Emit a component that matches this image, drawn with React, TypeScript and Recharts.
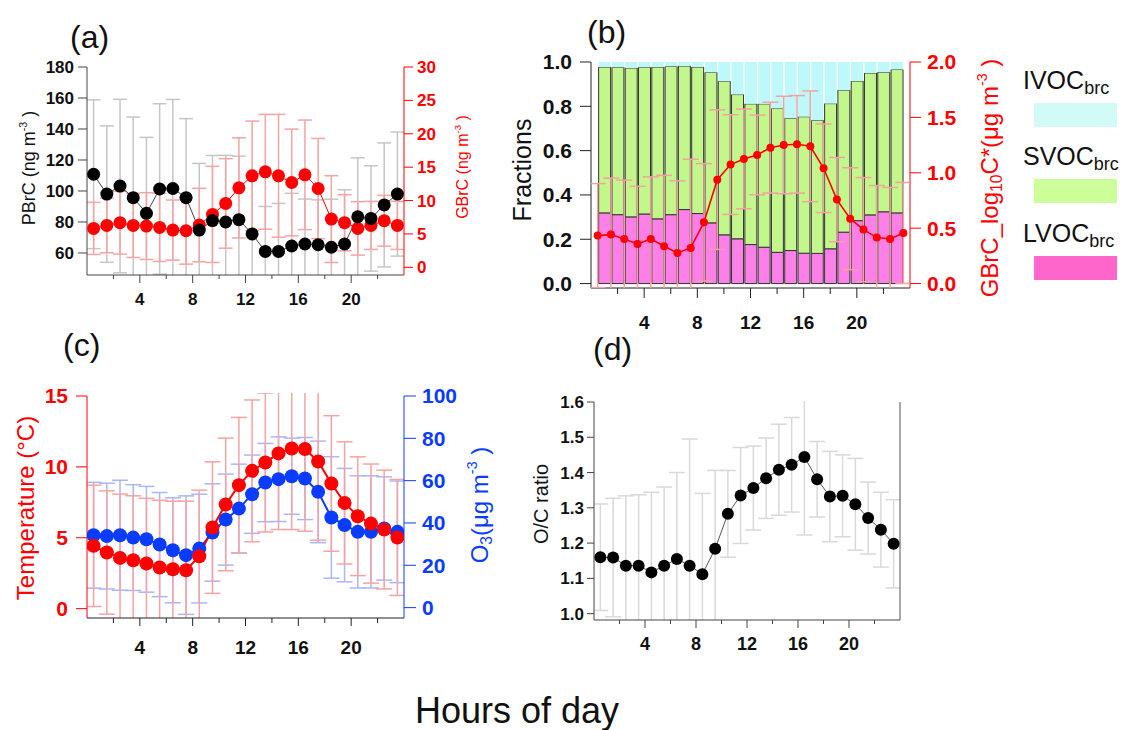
import React from 'react';
import { Bar, ComposedChart, ErrorBar, Line, XAxis, YAxis } from 'recharts';

const FONT = '"Liberation Sans", Arial, sans-serif';

// hour of day (bin centres) and bar centres for panel (b)
const hours = [0.5, 1.5, 2.5, 3.5, 4.5, 5.5, 6.5, 7.5, 8.5, 9.5, 10.5, 11.5, 12.5, 13.5, 14.5, 15.5, 16.5, 17.5, 18.5, 19.5, 20.5, 21.5, 22.5, 23.5];
const barHours = [1, 2, 3, 4, 5, 6, 7, 8, 9, 10, 11, 12, 13, 14, 15, 16, 17, 18, 19, 20, 21, 22, 23];
const xTicks = [2, 4, 6, 8, 10, 12, 14, 16, 18, 20, 22];

// (a) PBrC (ng m-3) and GBrC (ng m-3)
const pbrc = [110.8, 98, 103.2, 95.7, 85.6, 101.3, 101.6, 95.7, 74.8, 80.9, 80, 81.5, 72.3, 61, 61, 64.5, 65.8, 65.3, 63.7, 65.8, 83.4, 82.3, 91, 98];
const pbrcSd = [48, 44, 56, 52, 49, 55, 57.5, 51, 43, 42, 43, 41, 38, 29, 31, 34, 29, 29, 31, 35, 38, 34, 40, 40];
const gbrc = [5.83, 6.28, 6.68, 6.28, 6.18, 5.98, 5.58, 5.48, 6.33, 7.92, 9.57, 11.9, 13.7, 14.3, 13.7, 12.7, 13.85, 11.8, 7.22, 6.68, 5.83, 6.28, 6.98, 6.28];
const gbrcSd = [3.9, 4.1, 4.7, 4.8, 5.0, 5.1, 4.5, 5.0, 5.5, 7.2, 6.7, 7.5, 8.2, 8.6, 9.2, 8.0, 8.2, 7.5, 6.5, 4.2, 4.0, 3.6, 3.8, 3.6];

// (b) volatility fractions and GBrC log10C*
const lvoc = [0.319, 0.311, 0.301, 0.314, 0.292, 0.311, 0.334, 0.316, 0.274, 0.22, 0.202, 0.176, 0.164, 0.141, 0.149, 0.137, 0.136, 0.157, 0.232, 0.284, 0.31, 0.324, 0.319];
const svoc = [0.658, 0.665, 0.672, 0.662, 0.685, 0.669, 0.648, 0.661, 0.679, 0.693, 0.651, 0.635, 0.647, 0.649, 0.597, 0.616, 0.601, 0.655, 0.641, 0.63, 0.64, 0.63, 0.647];
const ivoc = [0.023, 0.024, 0.027, 0.024, 0.023, 0.02, 0.018, 0.023, 0.047, 0.087, 0.147, 0.189, 0.189, 0.21, 0.254, 0.247, 0.263, 0.188, 0.127, 0.086, 0.05, 0.046, 0.034];
const logC = [0.433, 0.442, 0.403, 0.358, 0.403, 0.337, 0.277, 0.322, 0.553, 0.938, 1.074, 1.125, 1.161, 1.227, 1.251, 1.257, 1.239, 1.041, 0.758, 0.586, 0.487, 0.415, 0.403, 0.457];
const logCSd = [0.47, 0.51, 0.53, 0.52, 0.56, 0.64, 0.65, 0.8, 0.53, 0.63, 0.45, 0.45, 0.36, 0.41, 0.44, 0.44, 0.5, 0.4, 0.38, 0.46, 0.47, 0.47, 0.465, 0.456];

// (c) temperature (°C) and O3 (µg m-3)
const temp = [4.43, 3.96, 3.58, 3.41, 3.18, 2.9, 2.78, 2.71, 3.7, 5.72, 7.35, 8.71, 9.72, 10.31, 10.95, 11.3, 11.26, 10.38, 8.83, 7.46, 6.52, 6.0, 5.58, 5.02];
const tempSd = [4.28, 4.35, 4.5, 4.55, 4.6, 4.75, 4.8, 4.87, 4.66, 4.64, 4.68, 4.78, 5.0, 4.9, 5.37, 5.72, 5.8, 5.55, 4.78, 4.31, 4.19, 4.2, 4.19, 4.09];
const o3 = [34.2, 33.8, 34.2, 33.1, 32.3, 29.8, 27.1, 24.8, 27.9, 35.5, 41.6, 46.8, 53.6, 59.1, 60.7, 62.1, 61.0, 54.7, 42.6, 39.0, 35.8, 35.8, 37.4, 35.8];
const o3Sd = [25, 25, 26, 25, 25, 24.6, 24.8, 28, 25.7, 23, 21.5, 21, 18.5, 18.5, 20, 18, 19.4, 24, 28.7, 26.8, 26.5, 26.5, 24.4, 24];

// (d) O/C ratio
const oc = [1.16, 1.159, 1.136, 1.136, 1.117, 1.136, 1.155, 1.136, 1.112, 1.184, 1.283, 1.335, 1.356, 1.384, 1.408, 1.422, 1.444, 1.381, 1.332, 1.334, 1.31, 1.271, 1.238, 1.198];
const ocSd = [0.151, 0.168, 0.198, 0.201, 0.227, 0.223, 0.245, 0.359, 0.229, 0.222, 0.123, 0.136, 0.119, 0.114, 0.129, 0.134, 0.221, 0.107, 0.128, 0.116, 0.13, 0.102, 0.106, 0.125];

const rowsA = hours.map((h, i) => ({ hour: h, pbrc: pbrc[i], pbrcSd: pbrcSd[i], gbrc: gbrc[i], gbrcSd: gbrcSd[i] }));
const rowsBars = barHours.map((h, i) => ({ hour: h, lvoc: lvoc[i], svoc: svoc[i], ivoc: ivoc[i] }));
const rowsBLine = hours.map((h, i) => ({ hour: h, logC: logC[i], logCSd: logCSd[i] }));
const rowsC = hours.map((h, i) => ({ hour: h, temp: temp[i], tempSd: tempSd[i], o3: o3[i], o3Sd: o3Sd[i] }));
const rowsD = hours.map((h, i) => ({ hour: h, oc: oc[i], ocSd: ocSd[i] }));

const RED = '#ff0000';
const BLUE = '#0a3cff';

// plot rectangles (page pixels)
const A = { x: 87, y: 67, w: 317, h: 208 };
const B = { x: 591, y: 62, w: 319, h: 226 };
const C = { x: 87, y: 396, w: 317, h: 222 };
const D = { x: 594, y: 402, w: 306, h: 218 };

const AX_W = 60;
const TOP = 20;
const X_H = 50;

type Rect = { x: number; y: number; w: number; h: number };

const place = (r: Rect): React.CSSProperties => ({ position: 'absolute', left: r.x - AX_W, top: r.y - TOP });
const size = (r: Rect) => ({ width: r.w + 2 * AX_W, height: r.h + TOP + X_H, margin: { top: TOP, right: 0, bottom: 0, left: 0 } });

// error bars live in their own chart, cut to the plot area like the original
const Clip = ({ r, pad = 0, children }: any) => (
  <div style={{ position: 'absolute', left: r.x, top: r.y - pad, width: r.w, height: r.h + pad, overflow: 'hidden' }}>
    <div style={{ position: 'absolute', left: -AX_W, top: -(TOP - pad) }}>{children}</div>
  </div>
);

const hourTick = (color: string, fs: number, dy: number, major: number, minor: number) => (p: any) => {
  const isMajor = p.payload.value % 4 === 0;
  return (
    <g>
      <line x1={p.x} x2={p.x} y1={p.y} y2={p.y + (isMajor ? major : minor)} stroke={color} strokeWidth={1} />
      {isMajor && (
        <text x={p.x} y={p.y + dy} textAnchor="middle" fontFamily={FONT} fontWeight={700} fontSize={fs} fill="#111">
          {p.payload.value}
        </text>
      )}
    </g>
  );
};

const yTick = (color: string, fs: number) => ({ fill: color, fontSize: fs, fontWeight: 700, fontFamily: FONT });

// invisible axes that keep the same plot rectangle
const GhostAxes = ({ l, r }: { l: number[]; r: number[] }) => null;

const Txt = ({ x, base, fs, color = '#111', children }: any) => (
  <div style={{ position: 'absolute', left: x, top: base - 0.847 * fs, fontSize: fs, lineHeight: 1, color, fontFamily: FONT, whiteSpace: 'nowrap' }}>
    {children}
  </div>
);

const VTxt = ({ cx, cy, fs, color = '#111', children }: any) => (
  <div style={{ position: 'absolute', left: cx, top: cy, fontSize: fs, lineHeight: 1, color, fontFamily: FONT, whiteSpace: 'nowrap', transform: 'translate(-50%, -50%) rotate(-90deg)' }}>
    {children}
  </div>
);

const sup: React.CSSProperties = { fontSize: '0.6em', verticalAlign: '0.75em' };
const sub: React.CSSProperties = { fontSize: '0.65em', verticalAlign: '-0.3em' };

const LegendItem = ({ y, label, color }: any) => (
  <>
    <Txt x={1023} base={y} fs={25}>
      {label}
      <span style={{ fontSize: 18, verticalAlign: -5 }}>brc</span>
    </Txt>
    <div style={{ position: 'absolute', left: 1034, top: y + 14, width: 83, height: 24, background: color }} />
  </>
);

const hiddenX = <XAxis type="number" dataKey="hour" domain={[0, 24]} allowDataOverflow height={X_H} tick={false} tickLine={false} axisLine={false} />;

export default function App() {
  const bw = B.w / 24;
  return (
    <div style={{ position: 'absolute', left: 0, top: 0, width: 1135, height: 730, background: '#fff', overflow: 'hidden', fontFamily: FONT }}>
      {/* (a) error bars */}
      <Clip r={A}>
        <ComposedChart {...size(A)} data={rowsA}>
          {hiddenX}
          <YAxis yAxisId="l" domain={[45.8, 180]} allowDataOverflow width={AX_W} tick={false} tickLine={false} axisLine={false} />
          <YAxis yAxisId="r" orientation="right" domain={[-1.15, 30]} allowDataOverflow width={AX_W} tick={false} tickLine={false} axisLine={false} />
          <Line yAxisId="l" dataKey="pbrc" stroke="none" dot={false} isAnimationActive={false}>
            <ErrorBar dataKey="pbrcSd" direction="y" width={7} stroke="#c6c6c6" strokeWidth={1.5} />
          </Line>
          <Line yAxisId="r" dataKey="gbrc" stroke="none" dot={false} isAnimationActive={false}>
            <ErrorBar dataKey="gbrcSd" direction="y" width={7} stroke="#f5a3a3" strokeWidth={1.5} />
          </Line>
        </ComposedChart>
      </Clip>
      {/* (a) */}
      <div style={place(A)}>
        <ComposedChart {...size(A)} data={rowsA}>
          <XAxis type="number" dataKey="hour" domain={[0, 24]} ticks={xTicks} interval={0} allowDataOverflow height={X_H}
            tickSize={0} tickMargin={0} tickLine={false} axisLine={{ stroke: '#444' }} tick={hourTick('#444', 17, 30, 8, 4)} />
          <YAxis yAxisId="l" domain={[45.8, 180]} ticks={[60, 80, 100, 120, 140, 160, 180]} allowDataOverflow width={AX_W}
            axisLine={{ stroke: '#444' }} tickLine={{ stroke: '#444' }} tickSize={9} tickMargin={4} tick={yTick('#111', 17)} interval={0} />
          <YAxis yAxisId="r" orientation="right" domain={[-1.15, 30]} ticks={[0, 5, 10, 15, 20, 25, 30]} allowDataOverflow width={AX_W}
            axisLine={{ stroke: RED }} tickLine={{ stroke: RED }} tickSize={9} tickMargin={4} tick={yTick(RED, 17)} interval={0} />
          <Line yAxisId="r" dataKey="gbrc" stroke={RED} strokeWidth={1} dot={{ r: 6.5, fill: RED, stroke: RED, strokeWidth: 0 }} isAnimationActive={false} />
          <Line yAxisId="l" dataKey="pbrc" stroke="#444" strokeWidth={1} dot={{ r: 6.5, fill: '#000', stroke: '#000', strokeWidth: 0 }} isAnimationActive={false} />
        </ComposedChart>
      </div>

      {/* (b) bars */}
      <div style={place(B)}>
        <ComposedChart {...size(B)} data={rowsBars}>
          <XAxis type="number" dataKey="hour" domain={[0, 24]} ticks={xTicks} interval={0} allowDataOverflow height={X_H}
            tickSize={0} tickMargin={0} tickLine={false} axisLine={{ stroke: '#222' }} tick={hourTick('#222', 19, 41, 10, 6)} />
          <YAxis yAxisId="l" domain={[-0.02, 1]} ticks={[0, 0.2, 0.4, 0.6, 0.8, 1.0]} allowDataOverflow width={AX_W} tickFormatter={(v: number) => v.toFixed(1)}
            axisLine={{ stroke: '#222' }} tickLine={{ stroke: '#222' }} tickSize={11} tickMargin={8} tick={yTick('#111', 21)} interval={0} />
          <YAxis yAxisId="r" orientation="right" domain={[-0.04, 2]} ticks={[0, 0.5, 1.0, 1.5, 2.0]} allowDataOverflow width={AX_W} tickFormatter={(v: number) => v.toFixed(1)}
            axisLine={{ stroke: RED }} tickLine={{ stroke: RED }} tickSize={11} tickMargin={6} tick={yTick(RED, 21)} interval={0} />
          <Bar yAxisId="l" dataKey="lvoc" stackId="s" barSize={bw} fill="#fd80e8" stroke="#333" strokeWidth={1} isAnimationActive={false} />
          <Bar yAxisId="l" dataKey="svoc" stackId="s" barSize={bw} fill="#c3f78c" stroke="#333" strokeWidth={1} isAnimationActive={false} />
          <Bar yAxisId="l" dataKey="ivoc" stackId="s" barSize={bw} fill="#bff8fb" isAnimationActive={false} />
        </ComposedChart>
      </div>
      {/* (b) error bars */}
      <Clip r={B}>
        <ComposedChart {...size(B)} data={rowsBLine}>
          {hiddenX}
          <YAxis yAxisId="l" domain={[-0.02, 1]} allowDataOverflow width={AX_W} tick={false} tickLine={false} axisLine={false} />
          <YAxis yAxisId="r" orientation="right" domain={[-0.04, 2]} allowDataOverflow width={AX_W} tick={false} tickLine={false} axisLine={false} />
          <Line yAxisId="r" dataKey="logC" stroke="none" dot={false} isAnimationActive={false}>
            <ErrorBar dataKey="logCSd" direction="y" width={8} stroke="#f3a2a2" strokeWidth={1.5} />
          </Line>
        </ComposedChart>
      </Clip>
      {/* (b) GBrC log10C* line */}
      <div style={place(B)}>
        <ComposedChart {...size(B)} data={rowsBLine}>
          {hiddenX}
          <YAxis yAxisId="l" domain={[-0.02, 1]} allowDataOverflow width={AX_W} tick={false} tickLine={false} axisLine={false} />
          <YAxis yAxisId="r" orientation="right" domain={[-0.04, 2]} allowDataOverflow width={AX_W} tick={false} tickLine={false} axisLine={false} />
          <Line yAxisId="r" dataKey="logC" stroke={RED} strokeWidth={1.6} dot={{ r: 4, fill: RED, stroke: RED, strokeWidth: 0 }} isAnimationActive={false} />
        </ComposedChart>
      </div>

      {/* (c) error bars */}
      <Clip r={C} pad={3}>
        <ComposedChart {...size(C)} data={rowsC}>
          {hiddenX}
          <YAxis yAxisId="l" domain={[-0.66, 15]} allowDataOverflow width={AX_W} tick={false} tickLine={false} axisLine={false} />
          <YAxis yAxisId="r" orientation="right" domain={[-4.9, 100]} allowDataOverflow width={AX_W} tick={false} tickLine={false} axisLine={false} />
          <Line yAxisId="r" dataKey="o3" stroke="none" dot={false} isAnimationActive={false}>
            <ErrorBar dataKey="o3Sd" direction="y" width={8} stroke="#aab6f6" strokeWidth={1.5} />
          </Line>
          <Line yAxisId="l" dataKey="temp" stroke="none" dot={false} isAnimationActive={false}>
            <ErrorBar dataKey="tempSd" direction="y" width={8} stroke="#f7a3a3" strokeWidth={1.5} />
          </Line>
        </ComposedChart>
      </Clip>
      {/* (c) */}
      <div style={place(C)}>
        <ComposedChart {...size(C)} data={rowsC}>
          <XAxis type="number" dataKey="hour" domain={[0, 24]} ticks={xTicks} interval={0} allowDataOverflow height={X_H}
            tickSize={0} tickMargin={0} tickLine={false} axisLine={{ stroke: '#222' }} tick={hourTick('#222', 19, 36, 8, 5)} />
          <YAxis yAxisId="l" domain={[-0.66, 15]} ticks={[0, 5, 10, 15]} allowDataOverflow width={AX_W}
            axisLine={{ stroke: RED }} tickLine={{ stroke: RED }} tickSize={11} tickMargin={8} tick={yTick(RED, 21)} interval={0} />
          <YAxis yAxisId="r" orientation="right" domain={[-4.9, 100]} ticks={[0, 20, 40, 60, 80, 100]} allowDataOverflow width={AX_W}
            axisLine={{ stroke: BLUE }} tickLine={{ stroke: BLUE }} tickSize={12} tickMargin={6} tick={yTick(BLUE, 21)} interval={0} />
          <Line yAxisId="r" dataKey="o3" stroke={BLUE} strokeWidth={2} dot={{ r: 7, fill: BLUE, stroke: BLUE, strokeWidth: 0 }} isAnimationActive={false} />
          <Line yAxisId="l" dataKey="temp" stroke={RED} strokeWidth={2} dot={{ r: 7, fill: RED, stroke: RED, strokeWidth: 0 }} isAnimationActive={false} />
        </ComposedChart>
      </div>

      {/* (d) error bars */}
      <Clip r={D} pad={1}>
        <ComposedChart {...size(D)} data={rowsD}>
          {hiddenX}
          <YAxis yAxisId="l" domain={[0.982, 1.6]} allowDataOverflow width={AX_W} tick={false} tickLine={false} axisLine={false} />
          <YAxis yAxisId="r" orientation="right" domain={[0.982, 1.6]} allowDataOverflow width={AX_W} tick={false} tickLine={false} axisLine={false} />
          <Line yAxisId="l" dataKey="oc" stroke="none" dot={false} isAnimationActive={false}>
            <ErrorBar dataKey="ocSd" direction="y" width={8} stroke="#d9d9d9" strokeWidth={1.5} />
          </Line>
        </ComposedChart>
      </Clip>
      {/* (d) */}
      <div style={place(D)}>
        <ComposedChart {...size(D)} data={rowsD}>
          <XAxis type="number" dataKey="hour" domain={[0, 24]} ticks={xTicks} interval={0} allowDataOverflow height={X_H}
            tickSize={0} tickMargin={0} tickLine={false} axisLine={{ stroke: '#444' }} tick={hourTick('#444', 18, 30, 8, 4)} />
          <YAxis yAxisId="l" domain={[0.982, 1.6]} ticks={[1.0, 1.1, 1.2, 1.3, 1.4, 1.5, 1.6]} allowDataOverflow width={AX_W} tickFormatter={(v: number) => v.toFixed(1)}
            axisLine={{ stroke: '#444' }} tickLine={{ stroke: '#444' }} tickSize={7} tickMargin={3} tick={yTick('#111', 17)} interval={0} />
          <YAxis yAxisId="r" orientation="right" domain={[0.982, 1.6]} allowDataOverflow width={AX_W} tick={false} tickLine={false} axisLine={{ stroke: '#555' }} />
          <Line yAxisId="l" dataKey="oc" stroke="#555" strokeWidth={1} dot={{ r: 6, fill: '#000', stroke: '#000', strokeWidth: 0 }} isAnimationActive={false} />
        </ComposedChart>
      </div>

      {/* titles */}
      <Txt x={70} base={48} fs={32}>(a)</Txt>
      <Txt x={587} base={43} fs={32}>(b)</Txt>
      <Txt x={63} base={356} fs={32}>(c)</Txt>
      <Txt x={593} base={360} fs={32}>(d)</Txt>

      {/* axis titles */}
      <VTxt cx={28} cy={168} fs={18}>PBrC (ng m<span style={sup}>-3</span> )</VTxt>
      <VTxt cx={462} cy={167} fs={16} color={RED}>GBrC (ng m<span style={sup}>-3</span> )</VTxt>
      <VTxt cx={522} cy={170} fs={25}>Fractions</VTxt>
      <VTxt cx={990} cy={178} fs={24} color={RED}>GBrC_log<span style={sub}>10</span>C*(μg m<span style={sup}>-3</span> )</VTxt>
      <VTxt cx={26} cy={508} fs={24} color={RED}>Temperature (°C)</VTxt>
      <VTxt cx={480} cy={505} fs={24} color={BLUE}>O<span style={sub}>3</span>(μg m<span style={sup}>-3</span> )</VTxt>
      <VTxt cx={541} cy={504} fs={20}>O/C ratio</VTxt>

      {/* legend for (b) */}
      <LegendItem y={89} label="IVOC" color="#d2fbf8" />
      <LegendItem y={165} label="SVOC" color="#ccff99" />
      <LegendItem y={242} label="LVOC" color="#ff66cc" />

      <Txt x={415} base={723} fs={36}>Hours of day</Txt>
    </div>
  );
}
